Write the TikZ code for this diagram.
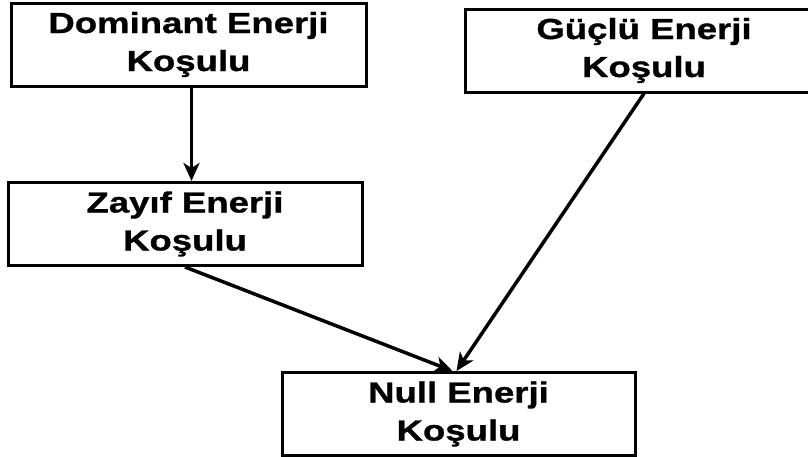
\documentclass[tikz,border=0pt]{standalone}
\usepackage{fontspec}
\setmainfont[FakeStretch=1.26,BoldFeatures={FakeBold=1}]{Liberation Sans}
\usetikzlibrary{arrows.meta}
\begin{document}
\begin{tikzpicture}[x=1pt,y=-1pt,
    kosul/.style={draw,line width=3pt,inner sep=0pt,align=center,
      minimum width=#1,minimum height=83pt,
      font=\fontsize{29}{38}\selectfont\bfseries},
    ok/.style={line width=3.5pt,-{Stealth[length=18pt,width=16pt,inset=5pt]}}]
    \useasboundingbox (0,0) rectangle (808,456);
    \clip (0,0) rectangle (808,456);
    \node[kosul=355pt] (dom) at (188.5,44.5) {Dominant Enerji\\Koşulu};
    \node[kosul=358pt] (guc) at (644,50.5) {Güçlü Enerji\\Koşulu};
    \node[kosul=354pt] (zay) at (185,224) {Zayıf Enerji\\Koşulu};
    \node[kosul=353pt] (nul) at (458.5,414) {Null Enerji\\Koşulu};
    \coordinate (domalt) at ([xshift=3pt]dom.south);
    \coordinate (zayust) at (domalt |- zay.north);
    \coordinate (nulsol) at ([xshift=-6pt]nul.north);
    \coordinate (nulsag) at ([xshift=-2pt]nul.north);
    \draw[ok] (domalt) -- (zayust);
    \draw[ok] (zay.south) -- (nulsol);
    \draw[ok] (guc.south) -- (nulsag);
\end{tikzpicture}
\end{document}
